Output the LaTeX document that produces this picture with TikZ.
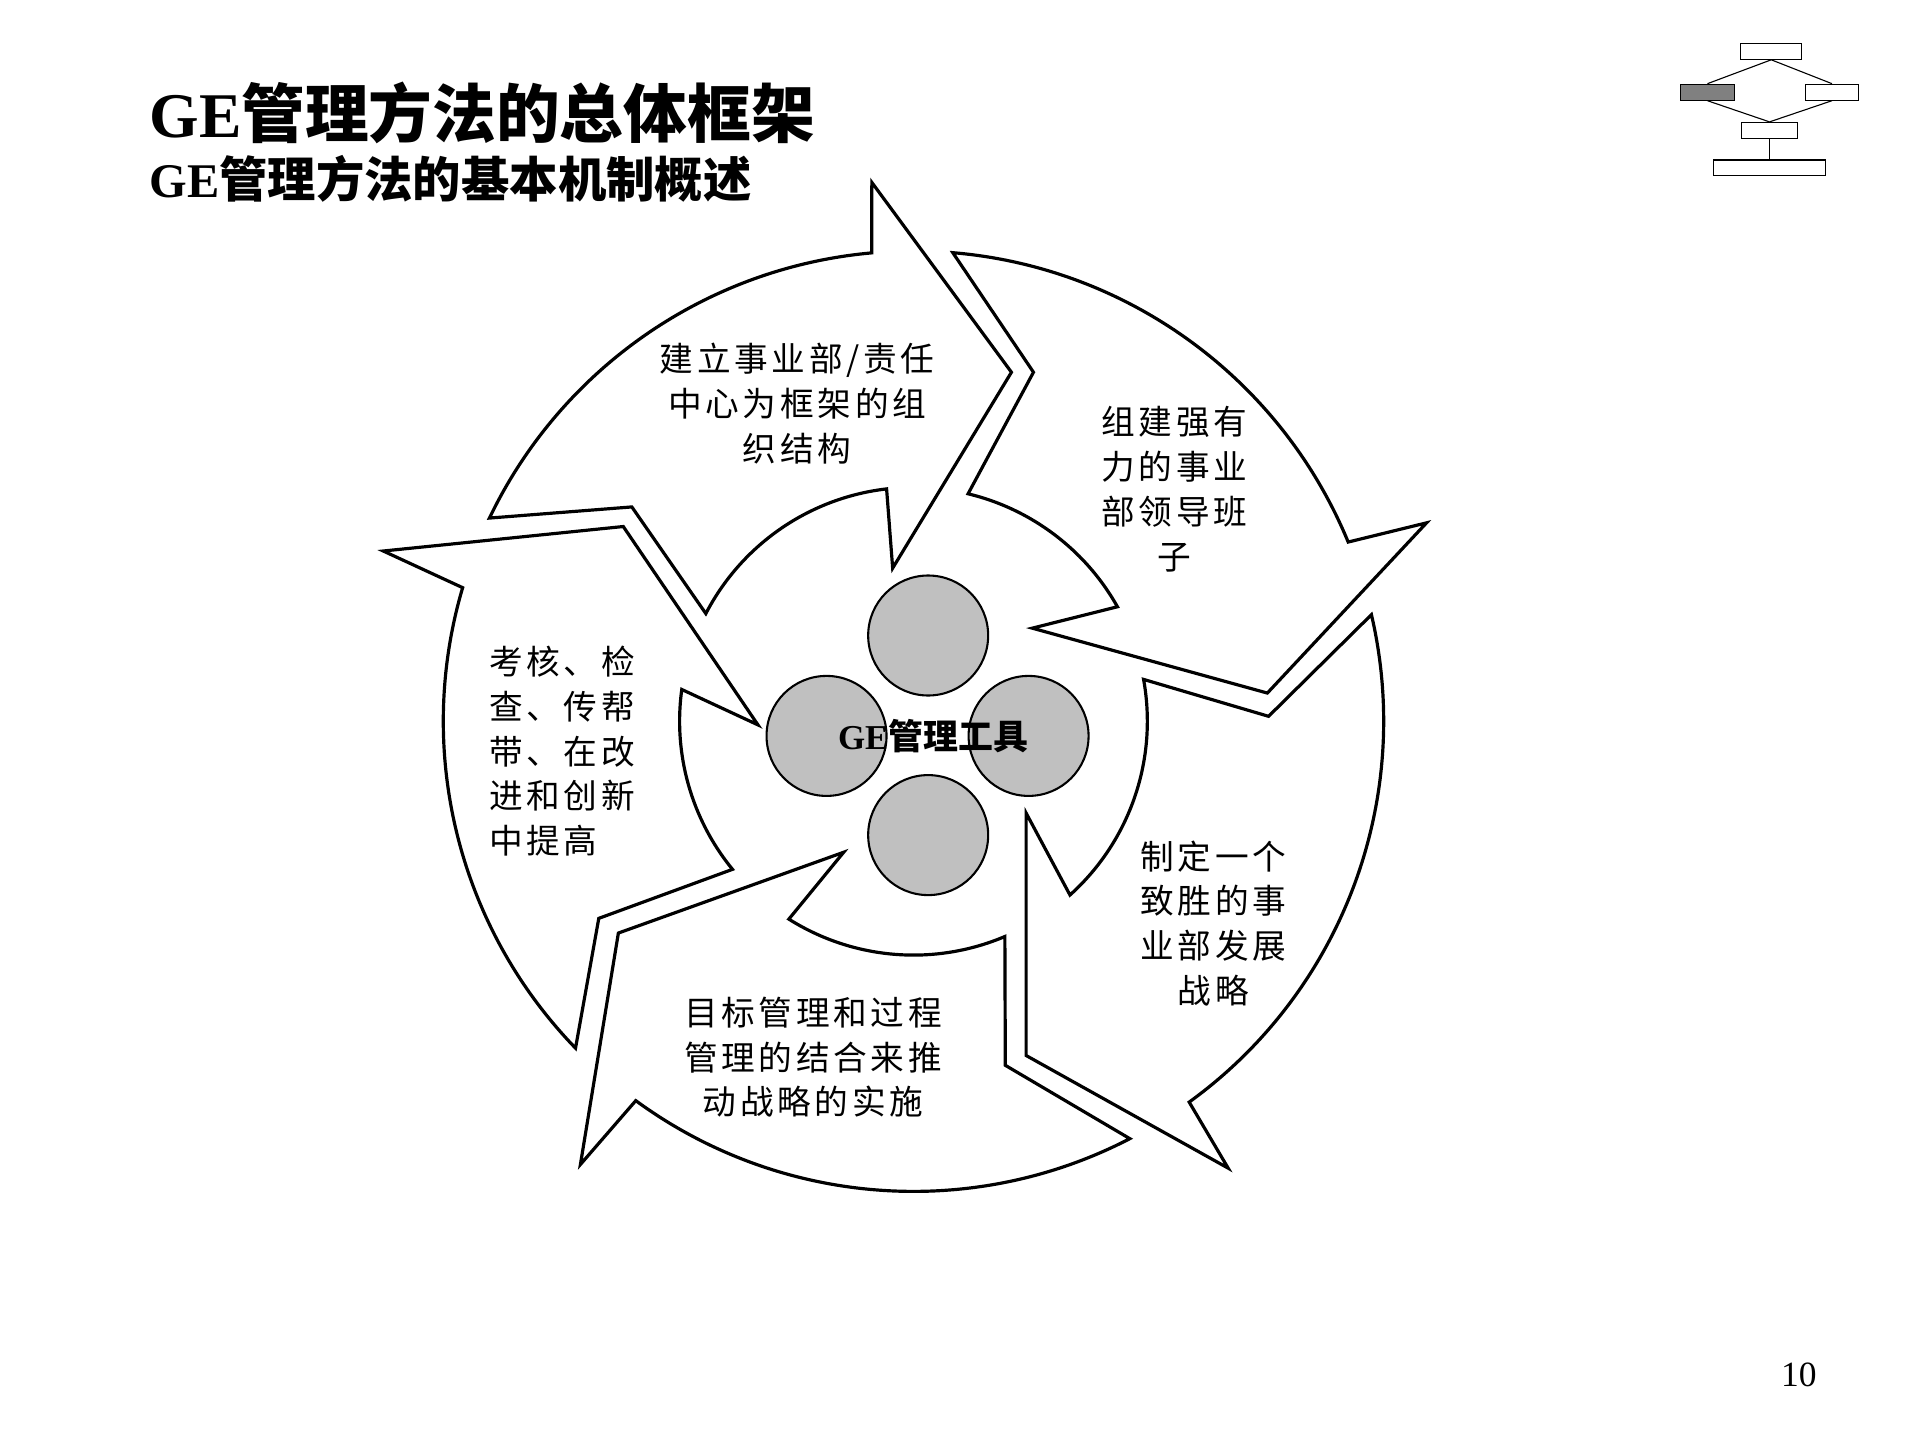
\documentclass[tikz,border=0pt]{standalone}
\usepackage{fontspec}
\setmainfont{Liberation Serif}
\newfontfamily\cjk{Noto Sans CJK SC}
\newfontfamily\cjkbody{Noto Sans CJK SC}[LetterSpace=11]
\definecolor{ballgray}{HTML}{C0C0C0}
\definecolor{icongray}{HTML}{808080}
\begin{document}
\begin{tikzpicture}[x=1pt,y=1pt,
  cyclearrow/.style={draw=black, fill=white, line width=2.6pt, line join=miter},
  steptext/.style={align=center, inner sep=0pt, font=\cjkbody\fontsize{27.5}{36.5}\selectfont},
  toolball/.style={circle, draw=black, fill=ballgray, line width=1.7pt, minimum size=98pt, inner sep=0pt},
  iconbox/.style={draw=black, fill=white, line width=0.9pt, inner sep=0pt, minimum height=13pt},
  iconline/.style={line width=0.9pt}]
\useasboundingbox (0,0) rectangle (1568,1176);

% Titles
\node[anchor=base west, inner sep=0pt, font=\bfseries\fontsize{52}{60}\selectfont] (title) at (122,1064) {GE{\cjk 管理方法的总体框架}};
\node[anchor=base west, inner sep=0pt, font=\bfseries\fontsize{39.5}{46}\selectfont] (subtitle) at (122,1015) {GE{\cjk 管理方法的基本机制概述}};

% Navigation icon
\node[iconbox, minimum width=49.8pt] (icontop) at (1446.5,1134.1) {};
\node[iconbox, fill=icongray, minimum width=43.5pt] (iconleft) at (1394.4,1100.7) {};
\node[iconbox, minimum width=43pt] (iconright) at (1496.1,1100.7) {};
\node[iconbox, minimum width=45.4pt] (iconmid) at (1445.1,1069.5) {};
\node[iconbox, minimum width=91.8pt] (iconbottom) at (1445.1,1038.8) {};
\draw[iconline] (icontop.south) -- (iconleft.north);
\draw[iconline] (icontop.south) -- (iconright.north);
\draw[iconline] (iconleft.south) -- (iconmid.north);
\draw[iconline] (iconright.south) -- (iconmid.north);
\draw[iconline] (iconmid.south) -- (iconbottom.north);

% The five circular arrows, centre of the ring at (746,587)
\begin{scope}[shift={(746,587)}]
\draw[cyclearrow] (154.4:384) arc[start angle=154.4, end angle=95.1, radius=384] -- (-34,440) -- (80,285) -- (-17,125) -- (96.6:191) arc[start angle=96.6, end angle=152.6, radius=191] -- (-230,175) -- cycle;
\draw[cyclearrow] (85.2:384) arc[start angle=85.2, end angle=22.4, radius=384] -- (419,162) -- (289,23) -- (97,76) -- (29.3:191) arc[start angle=29.3, end angle=76.5, radius=191] -- (98,285) -- cycle;
\draw[cyclearrow] (13.1:384) arc[start angle=13.1, end angle=-54.1, radius=384] -- (257,-365) -- (92,-273) -- (92,-75) -- (-48:191) arc[start angle=-48, end angle=10.3, radius=191] -- (290,4) -- cycle;
\draw[cyclearrow] (-62.6:384) arc[start angle=-62.6, end angle=-126.2, radius=384] -- (-272,-362) -- (-241,-173) -- (-57,-107) -- (-122.2:191) arc[start angle=-122.2, end angle=-67, radius=191] -- (75,-281) -- cycle;
\draw[cyclearrow] (-135.95:384) arc[start angle=-135.95, end angle=-196.5, radius=384] -- (-433,139) -- (-237,159) -- (-127,-3) -- (172.2:191) arc[start angle=172.2, end angle=219.3, radius=191] -- (-257,-161) -- cycle;
\end{scope}

% Tool circles in the middle
\node[toolball] (balltop) at (758,657) {};
\node[toolball] (ballleft) at (675,575) {};
\node[toolball] (ballright) at (840,575) {};
\node[toolball] (ballbottom) at (758,494) {};
\node[inner sep=0pt, font=\bfseries\fontsize{28.5}{30}\selectfont] (tools) at (762,575) {GE{\cjk 管理工具}};

% Texts on the arrows
\node[steptext] (step1) at (651,846.5) {建立事业部/责任\\中心为框架的组\\织结构};
\node[steptext] (step2) at (959,776.5) {组建强有\\力的事业\\部领导班\\子};
\node[steptext] (step3) at (991,422) {制定一个\\致胜的事\\业部发展\\战略};
\node[steptext] (step4) at (664,312.5) {目标管理和过程\\管理的结合来推\\动战略的实施};
\node[steptext, align=left] (step5) at (459,562.5) {考核、检\\查、传帮\\带、在改\\进和创新\\中提高};

\node[inner sep=0pt, font=\fontsize{29}{32}\selectfont] (pagenum) at (1469,53) {10};
\end{tikzpicture}
\end{document}
